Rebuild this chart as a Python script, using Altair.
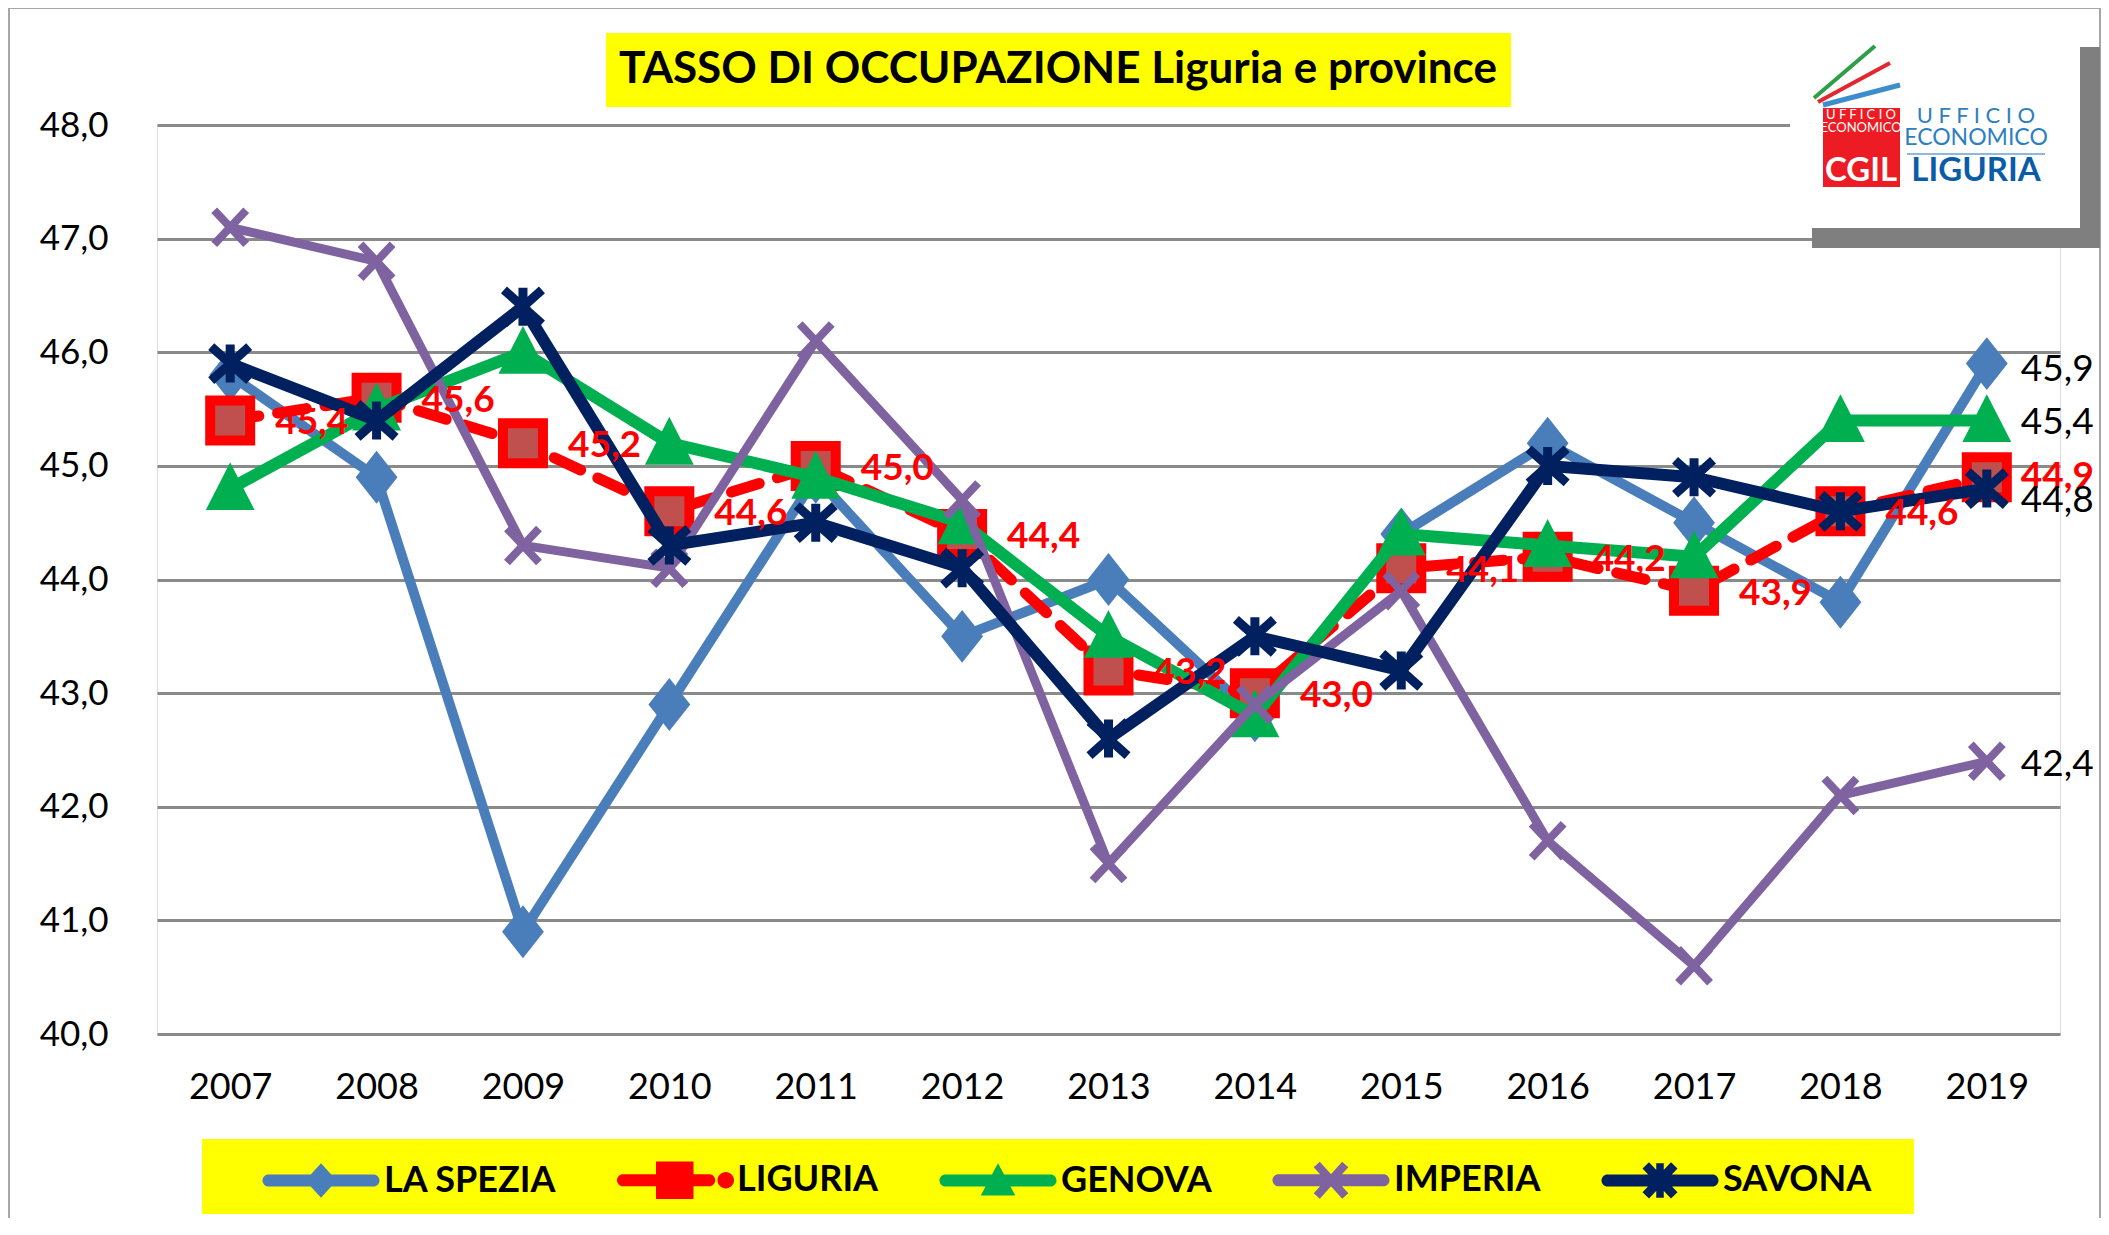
import math
import altair as alt
import pandas as pd

# ---------------- data ----------------
years = [2007, 2008, 2009, 2010, 2011, 2012, 2013, 2014, 2015, 2016, 2017, 2018, 2019]
series_names = ["LA SPEZIA", "LIGURIA", "GENOVA", "IMPERIA", "SAVONA"]
la_spezia = [45.8, 44.9, 40.9, 42.9, 44.9, 43.5, 44.0, 42.8, 44.4, 45.2, 44.5, 43.8, 45.9]
liguria = [45.4, 45.6, 45.2, 44.6, 45.0, 44.4, 43.2, 43.0, 44.1, 44.2, 43.9, 44.6, 44.9]
genova = [44.8, 45.5, 46.0, 45.2, 44.9, 44.5, 43.5, 42.8, 44.4, 44.3, 44.2, 45.4, 45.4]
imperia = [47.1, 46.8, 44.3, 44.1, 46.1, 44.7, 41.5, 42.9, 43.9, 41.7, 40.6, 42.1, 42.4]
savona = [45.9, 45.4, 46.4, 44.3, 44.5, 44.1, 42.6, 43.5, 43.2, 45.0, 44.9, 44.6, 44.8]
y_ticks = [40, 41, 42, 43, 44, 45, 46, 47, 48]
title_text = "TASSO DI OCCUPAZIONE Liguria e province"

rows = []
for name, vals in zip(series_names, [la_spezia, liguria, genova, imperia, savona]):
    for yr, v in zip(years, vals):
        rows.append({"serie": name, "anno": yr, "valore": v,
                     "etichetta": f"{v:.1f}".replace(".", ",")})
df = pd.DataFrame(rows)

# ---------------- styles ----------------
FONT = "Lato"
line_colors = ["#4A7EBB", "#FF0000", "#00B050", "#7F63A1", "#002060"]
marker_fills = ["#4A7EBB", "#C0504D", "#00B050", "#7F63A1", "#002060"]
line_widths = [10, 11, 12, 9, 12]
marker_paths = [
    "M0,-1.2L0.95,0L0,1.2L-0.95,0Z",
    "M-1,-1H1V1H-1Z",
    "M0,-1.15L1.1,1H-1.1Z",
    "M-0.8,-0.85L0.8,0.85M0.8,-0.85L-0.8,0.85",
    "M-0.95,-0.85L0.95,0.85M0.95,-0.85L-0.95,0.85M0,-0.95V0.95",
]
marker_filled = [True, True, True, False, False]
marker_sw = [3, 10, 3, 8, 9]


def bar(x1, y1, x2, y2, t):
    dx, dy = x2 - x1, y2 - y1
    L = math.hypot(dx, dy)
    nx, ny = -dy / L * t / 2, dx / L * t / 2
    pts = [(x1 - nx, y1 - ny), (x2 - nx, y2 - ny), (x2 + nx, y2 + ny), (x1 + nx, y1 + ny)]
    return "M" + "L".join(f"{x:.3f},{y:.3f}" for x, y in pts) + "Z"


def pill(x1, x2, h):
    r = h
    return (f"M{x1 + r},{-h}H{x2 - r}A{r},{r} 0 0 1 {x2 - r},{h}"
            f"H{x1 + r}A{r},{r} 0 0 1 {x1 + r},{-h}Z")


LH = 0.4  # half thickness of legend line (units of 15 px)
legend_paths = [
    pill(-3.9, 3.9, LH) + "M0,-1.15L1.05,0L0,1.15L-1.05,0Z",
    pill(-3.8, 2.75, LH) + "M-1.2,-1.25H1.3V1.25H-1.2Z"
    + "M2.9,0A0.55,0.55 0 1 1 4.0,0A0.55,0.55 0 1 1 2.9,0Z",
    pill(-3.9, 3.9, LH) + "M0,-1.15L1.15,1H-1.15Z",
    pill(-3.9, 3.9, LH) + bar(-0.95, -1.05, 0.95, 1.05, 0.55) + bar(0.95, -1.05, -0.95, 1.05, 0.55),
    pill(-3.9, 3.9, LH) + bar(-0.95, -1.0, 0.95, 1.0, 0.6) + bar(0.95, -1.0, -0.95, 1.0, 0.6)
    + bar(0, -1.15, 0, 1.15, 0.5),
]

W, H = 1903, 909

X = alt.X("anno:O", title=None,
          scale=alt.Scale(type="point", padding=0.5),
          axis=alt.Axis(labelAngle=0, labelFont=FONT, labelFontSize=36, labelColor="black",
                        labelBaseline="middle", labelPadding=53, domain=False, ticks=False, grid=False))
Y = alt.Y("valore:Q", title=None,
          scale=alt.Scale(domain=[40, 48], nice=False, zero=False),
          axis=alt.Axis(values=y_ticks, labelExpr="replace(format(datum.value, '.1f'), '.', ',')",
                        labelFont=FONT, labelFontSize=35, labelColor="black", labelPadding=49,
                        domain=False, ticks=False, grid=True, gridColor="#8A8A8A", gridWidth=3))

deco = alt.Chart(alt.Data(values=[{}]))


def box(x1, x2, y1, y2, **kw):
    return deco.mark_rect(**kw).encode(x=alt.value(x1), x2=alt.value(x2), y=alt.value(y1), y2=alt.value(y2))


def label(txt, x, y, **kw):
    return deco.mark_text(text=txt, font=FONT, align="center", baseline="middle", **kw).encode(
        x=alt.value(x), y=alt.value(y))


def seg(x1, y1, x2, y2, color, w):
    return deco.mark_rule(color=color, strokeWidth=w).encode(
        x=alt.value(x1), x2=alt.value(x2), y=alt.value(y1), y2=alt.value(y2))


layers = []
# outer border
layers.append(box(-148, 1943, -117, 1200, fillOpacity=0, stroke="#A6A6A6", strokeWidth=2))
# title
layers.append(box(449, 1354, -92, -18, color="#FFFF00"))
layers.append(label(title_text, 901, -55, fontSize=44, fontWeight="bold", color="black"))
# legend background
layers.append(box(45, 1757, 1014, 1089, color="#FFFF00"))
# logo
layers.append(box(1655, 1943, -78, 123, color="#7F7F7F"))
layers.append(box(1633, 1923, -95, 103, color="white"))
layers.append(seg(1657, -27, 1718, -79, "#2E9E48", 4))
layers.append(seg(1661, -23, 1733, -62, "#E3262F", 4))
layers.append(seg(1666, -20, 1743, -40, "#3C8DCB", 5))
layers.append(box(1666, 1743, -17, 62, color="#ED1C24"))
layers.append(label("U F F I C I O", 1704, -10, fontSize=13, color="white"))
layers.append(label("ECONOMICO", 1704, 3, fontSize=13, color="white"))
layers.append(label("CGIL", 1704, 46, fontSize=33, fontWeight="bold", color="white"))
layers.append(label("U  F  F  I  C  I  O", 1819, -9, fontSize=22, color="#2E7FC1"))
layers.append(label("ECONOMICO", 1819, 13, fontSize=23, color="#2E7FC1"))
layers.append(seg(1750, 29, 1888, 29, "#8DB9E0", 2))
layers.append(label("LIGURIA", 1819, 46, fontSize=33, fontWeight="bold", color="#0B5CA8"))

base = alt.Chart(df)
for i, name in enumerate(series_names):
    sub = base.transform_filter(alt.datum.serie == name)
    lkw = dict(color=line_colors[i], strokeWidth=line_widths[i], strokeCap="round", strokeJoin="round")
    if name == "LIGURIA":
        lkw["strokeDash"] = [29, 19]
    layers.append(sub.mark_line(**lkw).encode(x=X, y=Y))
    if marker_filled[i]:
        pkw = dict(filled=True, fill=marker_fills[i], stroke=line_colors[i])
    else:
        pkw = dict(filled=False, stroke=line_colors[i])
    layers.append(sub.mark_point(shape=marker_paths[i], size=1600, strokeWidth=marker_sw[i],
                                 opacity=1, strokeJoin="miter", **pkw).encode(x=X, y=Y))

legend = alt.Legend(title=None, orient="none", legendX=146, legendY=1037, direction="horizontal",
                    columns=5, symbolSize=900, symbolStrokeWidth=0, labelFont=FONT, labelFontSize=36,
                    labelFontWeight="bold", labelColor="black", labelOffset=45, columnPadding=60,
                    labelLimit=0, padding=0, symbolOpacity=1)
layers.append(base.mark_point(filled=True, size=900, clip=True).encode(
    x=X, y=alt.datum(60),
    fill=alt.Fill("serie:N", scale=alt.Scale(domain=series_names, range=line_colors), legend=legend),
    shape=alt.Shape("serie:N", scale=alt.Scale(domain=series_names, range=legend_paths), legend=legend),
))

# data labels
layers.append(base.transform_filter((alt.datum.serie == "LIGURIA") & (alt.datum.anno != 2019))
              .mark_text(align="left", baseline="middle", dx=45, dy=3, font=FONT, fontSize=37,
                         fontWeight="bold", color="#FF0000")
              .encode(x=X, y=Y, text="etichetta:N"))
end_dy = {"LA SPEZIA": 6, "LIGURIA": 0, "GENOVA": 3, "IMPERIA": 4, "SAVONA": 12}
for name in series_names:
    kw = dict(color="#FF0000", fontWeight="bold") if name == "LIGURIA" else dict(color="black")
    layers.append(base.transform_filter((alt.datum.serie == name) & (alt.datum.anno == 2019))
                  .mark_text(align="left", baseline="middle", dx=34, dy=end_dy[name], font=FONT,
                             fontSize=37, **kw)
                  .encode(x=X, y=Y, text="etichetta:N"))

chart = alt.layer(*layers).properties(
    width=W, height=H,
    autosize=alt.AutoSizeParams(type="none"),
    padding={"left": 149, "top": 117, "right": 41, "bottom": 184},
    background="white",
).configure_view(stroke=None).configure(font=FONT)

chart.save("out.html", embed_options={"renderer": "svg", "actions": False})
